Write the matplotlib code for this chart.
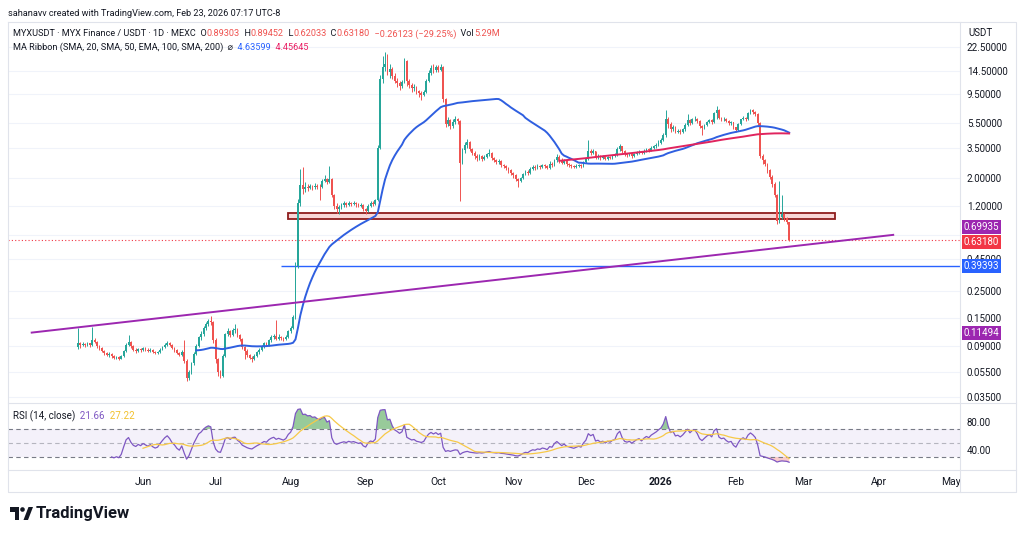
import matplotlib
matplotlib.use('Agg')
import matplotlib.pyplot as plt
import matplotlib.dates as mdates
from matplotlib.patches import Rectangle, Circle, Polygon
from matplotlib.ticker import NullLocator
import numpy as np
import pandas as pd

plt.rcParams['font.family'] = ['Roboto', 'DejaVu Sans']

# daily candles MYXUSDT (MEXC), one per day from start_date, open = previous close
start_date = '2025-05-05'
first_open = 0.088
close = [
    0.094, 0.091, 0.093, 0.092, 0.094, 0.091, 0.101, 0.097, 0.090, 0.086,
    0.082, 0.079, 0.076, 0.077, 0.074, 0.072, 0.073, 0.071, 0.074, 0.082,
    0.092, 0.096, 0.089, 0.084, 0.082, 0.085, 0.083, 0.086, 0.084, 0.082,
    0.084, 0.081, 0.079, 0.080, 0.084, 0.088, 0.092, 0.095, 0.092, 0.087,
    0.084, 0.079, 0.076, 0.081, 0.068, 0.050, 0.055, 0.065, 0.078, 0.090,
    0.105, 0.112, 0.125, 0.135, 0.142, 0.140, 0.100, 0.070, 0.055, 0.052,
    0.075, 0.112, 0.118, 0.110, 0.120, 0.122, 0.110, 0.102, 0.088, 0.082,
    0.076, 0.072, 0.070, 0.075, 0.080, 0.084, 0.089, 0.094, 0.092, 0.100,
    0.105, 0.108, 0.103, 0.106, 0.104, 0.102, 0.106, 0.118, 0.126, 0.152,
    0.39, 1.25, 1.75, 1.62, 1.70, 1.66, 1.72, 1.68, 1.74, 1.70,
    1.68, 1.90, 1.95, 1.85, 1.98, 1.45, 1.20, 1.13, 1.18, 1.22,
    1.25, 1.22, 1.27, 1.24, 1.26, 1.23, 1.20, 1.22, 1.12, 1.08,
    1.20, 1.26, 1.24, 1.32, 3.5, 12.5, 15.5, 16.5, 14.2, 15.0,
    13.2, 12.0, 11.5, 10.9, 11.8, 17.5, 12.0, 11.2, 10.5, 10.8,
    9.9, 9.6, 9.3, 9.8, 12.0, 14.0, 15.2, 14.6, 15.5, 14.8,
    15.6, 8.6, 5.4, 5.8, 5.2, 5.6, 5.9, 5.7, 2.65, 3.35,
    3.7, 3.9, 3.4, 3.2, 3.0, 2.9, 3.0, 2.85, 2.95, 3.1,
    3.2, 2.9, 2.8, 2.7, 2.75, 2.55, 2.5, 2.4, 2.3, 2.2,
    2.1, 1.95, 1.90, 2.0, 2.15, 2.25, 2.2, 2.35, 2.45, 2.4,
    2.5, 2.45, 2.55, 2.5, 2.4, 2.6, 2.55, 2.8, 2.95, 2.8,
    2.65, 2.75, 2.6, 2.55, 2.5, 2.45, 2.5, 2.55, 2.5, 2.7,
    2.85, 3.3, 3.2, 3.3, 2.95, 3.0, 2.9, 2.95, 2.85, 2.95,
    2.9, 3.0, 3.05, 3.4, 3.6, 3.3, 3.1, 3.05, 3.1, 3.0,
    3.1, 3.2, 3.25, 3.15, 3.3, 3.4, 3.35, 3.5, 3.6, 3.7,
    3.85, 4.0, 4.4, 6.0, 5.4, 4.9, 5.1, 4.7, 4.8, 4.65,
    4.9, 5.3, 5.8, 5.5, 5.9, 6.0, 5.7, 5.2, 5.0, 5.3,
    5.6, 5.8, 5.6, 6.6, 7.0, 6.1, 5.9, 6.0, 5.7, 5.5,
    5.6, 5.1, 4.85, 5.4, 5.9, 6.1, 5.9, 6.6, 7.0, 6.8,
    6.5, 5.5, 3.0, 2.8, 2.6, 2.3, 2.05, 1.8, 1.45, 0.90,
    0.98, 1.02, 0.96, 0.893, 0.6318,
]
high = [
    0.125, 0.097, 0.096, 0.095, 0.097, 0.095, 0.127, 0.104, 0.099, 0.091,
    0.088, 0.084, 0.081, 0.080, 0.079, 0.076, 0.075, 0.074, 0.076, 0.084,
    0.094, 0.110, 0.098, 0.091, 0.086, 0.087, 0.087, 0.088, 0.088, 0.086,
    0.086, 0.085, 0.082, 0.082, 0.086, 0.090, 0.094, 0.099, 0.097, 0.093,
    0.088, 0.085, 0.080, 0.083, 0.100, 0.070, 0.058, 0.067, 0.080, 0.093,
    0.108, 0.118, 0.130, 0.140, 0.148, 0.155, 0.143, 0.104, 0.072, 0.058,
    0.078, 0.115, 0.124, 0.121, 0.126, 0.135, 0.124, 0.113, 0.104, 0.090,
    0.085, 0.078, 0.074, 0.077, 0.082, 0.087, 0.092, 0.097, 0.097, 0.103,
    0.109, 0.112, 0.145, 0.111, 0.108, 0.106, 0.109, 0.121, 0.131, 0.158,
    0.42, 1.35, 2.35, 2.45, 1.85, 1.78, 1.80, 1.77, 1.82, 1.80,
    1.80, 1.95, 2.10, 2.00, 2.50, 2.00, 1.50, 1.25, 1.22, 1.26,
    1.30, 1.28, 1.31, 1.29, 1.30, 1.28, 1.26, 1.26, 1.24, 1.15,
    1.24, 1.30, 1.30, 1.36, 3.7, 13.5, 19.0, 20.5, 19.8, 16.5,
    15.5, 14.0, 12.6, 12.0, 12.2, 18.5, 17.8, 12.5, 11.5, 11.3,
    11.0, 10.2, 9.9, 10.1, 12.5, 14.8, 16.0, 16.5, 16.2, 16.0,
    16.4, 15.8, 8.8, 6.2, 6.0, 5.9, 6.3, 6.1, 5.8, 3.5,
    3.9, 4.1, 3.95, 3.5, 3.3, 3.1, 3.1, 3.05, 3.05, 3.2,
    3.4, 3.25, 2.95, 2.85, 2.85, 2.8, 2.6, 2.55, 2.45, 2.35,
    2.25, 2.15, 2.0, 2.05, 2.2, 2.3, 2.3, 2.45, 2.55, 2.55,
    2.6, 2.55, 2.6, 2.6, 2.55, 2.75, 2.7, 2.85, 3.1, 3.05,
    2.9, 2.85, 2.8, 2.65, 2.6, 2.55, 2.6, 2.6, 2.6, 2.75,
    2.9, 4.0, 3.4, 3.4, 3.3, 3.1, 3.05, 3.05, 3.0, 3.0,
    3.0, 3.05, 3.15, 3.55, 3.75, 3.6, 3.35, 3.2, 3.2, 3.15,
    3.2, 3.3, 3.35, 3.3, 3.4, 3.5, 3.5, 3.6, 3.7, 3.8,
    4.0, 4.2, 4.6, 7.0, 6.2, 5.6, 5.3, 5.2, 4.95, 4.9,
    5.0, 5.5, 6.5, 5.9, 6.1, 6.3, 6.1, 5.8, 5.3, 5.4,
    5.75, 5.95, 5.9, 6.8, 7.6, 7.1, 6.2, 6.15, 6.05, 5.8,
    5.7, 5.6, 5.15, 5.5, 6.0, 6.3, 6.2, 6.8, 7.2, 7.1,
    6.9, 6.6, 5.6, 3.1, 2.85, 2.65, 2.35, 2.1, 1.85, 1.5,
    1.9, 1.45, 1.04, 0.98, 0.89452,
]
low = [
    0.085, 0.087, 0.089, 0.088, 0.090, 0.088, 0.090, 0.094, 0.087, 0.083,
    0.080, 0.076, 0.074, 0.073, 0.072, 0.070, 0.070, 0.069, 0.070, 0.073,
    0.081, 0.090, 0.086, 0.082, 0.079, 0.080, 0.081, 0.082, 0.082, 0.080,
    0.081, 0.079, 0.077, 0.077, 0.079, 0.083, 0.087, 0.090, 0.089, 0.085,
    0.081, 0.077, 0.074, 0.075, 0.065, 0.047, 0.048, 0.053, 0.063, 0.076,
    0.088, 0.100, 0.108, 0.120, 0.130, 0.132, 0.095, 0.066, 0.052, 0.050,
    0.051, 0.073, 0.108, 0.106, 0.108, 0.114, 0.105, 0.099, 0.085, 0.070,
    0.073, 0.070, 0.067, 0.069, 0.073, 0.078, 0.082, 0.087, 0.089, 0.090,
    0.097, 0.102, 0.100, 0.101, 0.101, 0.099, 0.100, 0.104, 0.115, 0.122,
    0.148, 0.38, 1.20, 1.50, 1.55, 1.58, 1.62, 1.60, 1.64, 1.63,
    1.33, 1.65, 1.85, 1.80, 1.82, 1.40, 1.12, 1.05, 1.02, 1.12,
    1.18, 1.18, 1.20, 1.19, 1.21, 1.18, 1.16, 1.17, 1.08, 1.03,
    1.06, 1.17, 1.20, 1.22, 1.30, 3.4, 11.5, 14.5, 13.5, 12.8,
    12.5, 11.5, 10.8, 10.2, 10.5, 11.5, 11.0, 10.5, 9.8, 9.9,
    9.5, 9.0, 8.5, 9.1, 9.6, 11.8, 13.5, 14.0, 14.3, 14.2,
    14.5, 8.2, 5.1, 5.2, 4.9, 5.0, 5.4, 5.4, 1.30, 2.6,
    3.2, 3.5, 3.3, 3.05, 2.85, 2.75, 2.8, 2.75, 2.8, 2.9,
    3.0, 2.8, 2.7, 2.6, 2.6, 2.45, 2.4, 2.3, 2.2, 2.1,
    2.0, 1.88, 1.70, 1.85, 1.95, 2.1, 2.1, 2.15, 2.3, 2.3,
    2.35, 2.35, 2.4, 2.4, 2.35, 2.35, 2.45, 2.5, 2.7, 2.65,
    2.6, 2.6, 2.5, 2.45, 2.4, 2.4, 2.4, 2.45, 2.42, 2.45,
    2.65, 2.8, 3.05, 3.1, 2.85, 2.85, 2.8, 2.85, 2.8, 2.8,
    2.82, 2.85, 2.95, 3.0, 3.3, 3.2, 3.0, 2.95, 3.0, 2.9,
    2.95, 3.05, 3.1, 3.1, 3.1, 3.25, 3.25, 3.3, 3.4, 3.5,
    3.6, 3.75, 3.95, 4.3, 5.0, 4.7, 4.75, 4.6, 4.55, 4.5,
    4.6, 4.8, 5.2, 5.3, 5.4, 5.7, 5.5, 5.0, 4.45, 4.9,
    5.2, 5.5, 5.45, 5.5, 6.0, 5.9, 5.7, 5.75, 5.6, 5.3,
    5.3, 4.9, 4.7, 4.8, 5.3, 5.8, 5.7, 5.8, 6.5, 6.5,
    6.3, 5.2, 2.9, 2.6, 2.5, 2.2, 1.95, 1.7, 1.40, 0.85,
    0.87, 0.93, 0.90, 0.86, 0.62033,
]

# user drawings
trend_dates = ['2025-04-16', '2026-04-07']
trend_prices = [0.11494, 0.69935]
support_start = '2025-07-28'
support_price = 0.39393
zone_dates = ['2025-07-31', '2026-03-14']
zone_prices = [0.94, 1.045]
last_price = 0.63180

price_ticks = [0.035, 0.055, 0.09, 0.15, 0.25, 0.45, 0.7, 1.2, 2.0, 3.5, 5.5, 9.5, 14.5, 22.5]
hidden_ticks = [0.7]  # its label sits under the price tags
month_labels = ['Jun', 'Jul', 'Aug', 'Sep', 'Oct', 'Nov', 'Dec', '2026', 'Feb', 'Mar', 'Apr', 'May']
month_starts = pd.date_range('2025-06-01', periods=12, freq='MS')

GREEN = '#26a69a'
RED = '#ef5350'
TXT = '#131722'
W, H = 1024, 536


def rma(x, n):
    # wilder smoothing like tradingview ta.rma
    out = np.full(len(x), np.nan)
    out[n] = np.mean(x[1:n + 1])
    for i in range(n + 1, len(x)):
        out[i] = (out[i - 1] * (n - 1) + x[i]) / n
    return out


def chain(axo, x, y, parts, size):
    t = axo.text(x, y, parts[0][0], color=parts[0][1], fontsize=size, va='center', ha='left')
    for s, col in parts[1:]:
        t = axo.annotate(s, xy=(1, 0.5), xycoords=t, va='center', ha='left', color=col, fontsize=size)
    return t


def box(left, top, right, bottom):
    return [left / W, 1 - bottom / H, (right - left) / W, (bottom - top) / H]


def main():
    c = np.array(close)
    o = np.concatenate([[first_open], c[:-1]])
    h = np.maximum(np.array(high), np.maximum(o, c))
    l = np.minimum(np.array(low), np.minimum(o, c))
    dates = pd.date_range(start_date, periods=len(c), freq='D')
    x = mdates.date2num(dates)
    up = c >= o

    sma50 = pd.Series(c).rolling(50).mean()
    sma200 = pd.Series(c).rolling(200).mean()

    d = np.diff(c, prepend=np.nan)
    gain = np.where(d > 0, d, 0.0)
    loss = np.where(d < 0, -d, 0.0)
    ag = rma(gain, 14)
    al = rma(loss, 14)
    rsi = 100 - 100 / (1 + ag / al)
    rsi_ma = pd.Series(rsi).rolling(14).mean().values

    fig = plt.figure(figsize=(W / 100, H / 100), dpi=100)
    ax = fig.add_axes(box(8, 22, 960, 403))
    rax = fig.add_axes(box(8, 403, 960, 470), sharex=ax)

    x0 = mdates.date2num(pd.Timestamp(start_date))
    ax.set_xlim(x0 - 28.8, x0 + 364.6)

    # price pane
    ax.set_yscale('log')
    ax.set_ylim(0.0313, 35.7)
    cols = np.where(up, GREEN, RED)
    lo_b = np.minimum(o, c)
    hi_b = np.maximum(o, c)
    body = np.maximum(hi_b - lo_b, hi_b * 0.015)
    ax.vlines(x, l, h, colors=cols, lw=0.7, zorder=3)
    ax.bar(x, body, bottom=lo_b, width=0.72, color=cols, lw=0, zorder=4)

    ax.plot(x, sma50, color='#2f5fe0', lw=1.4, zorder=5)
    ax.plot(x, sma200, color='#e0245e', lw=1.4, zorder=5)

    tx = mdates.date2num(pd.to_datetime(trend_dates))
    ax.plot(tx, trend_prices, color='#9c27b0', lw=1.4, zorder=5)
    ax.hlines(support_price, mdates.date2num(pd.Timestamp(support_start)), ax.get_xlim()[1],
              color='#2962ff', lw=1, zorder=2)
    zx = mdates.date2num(pd.to_datetime(zone_dates))
    ax.add_patch(Rectangle((zx[0], zone_prices[0]), zx[1] - zx[0], zone_prices[1] - zone_prices[0],
                           facecolor='#f8d7d7', edgecolor='#8e1c1c', lw=1.3, zorder=2))
    ax.axhline(last_price, color='#f23645', lw=0.8, ls=(0, (1, 2)), zorder=1)

    ax.yaxis.tick_right()
    ax.set_yticks(price_ticks)
    ax.set_yticklabels(['' if v in hidden_ticks else f'{v:.5f}' for v in price_ticks])
    ax.yaxis.set_minor_locator(NullLocator())
    ax.tick_params(axis='y', length=0, pad=5, labelsize=7, labelcolor=TXT)
    ax.tick_params(axis='x', length=0, labelbottom=False)
    ax.grid(axis='y', color='#f0f3fa', lw=0.8)
    ax.set_axisbelow(True)
    for s in ax.spines.values():
        s.set_visible(False)

    # price tags on the scale
    def tag(price, text, color, dy=0):
        ax.annotate(text, xy=(1, price), xycoords=('axes fraction', 'data'), xytext=(2.5, dy),
                    textcoords='offset points', ha='left', va='center', color='white', fontsize=7,
                    bbox=dict(boxstyle='square,pad=0.2', fc=color, ec='none'), annotation_clip=False,
                    zorder=10)
    tag(trend_prices[1], '0.69935', '#9c27b0', dy=5.5)
    tag(last_price, '0.63180', '#f23645', dy=-1)
    tag(support_price, '0.39393', '#2962ff')
    tag(trend_prices[0], '0.11494', '#9c27b0')

    # rsi pane
    rax.axhspan(30, 70, color='#7e57c2', alpha=0.08, lw=0)
    for lev, a in [(70, 1.0), (50, 0.5), (30, 1.0)]:
        rax.axhline(lev, color='#787b86', lw=0.8, ls=(0, (4, 3)), alpha=a)
    r0 = np.nan_to_num(rsi, nan=50)
    rax.fill_between(x, 70, r0, where=r0 > 70, interpolate=True, color='#43a047', alpha=0.55, lw=0)
    rax.fill_between(x, 30, r0, where=r0 < 30, interpolate=True, color='#ef5350', alpha=0.3, lw=0)
    rax.plot(x, rsi, color='#7e57c2', lw=0.9)
    rax.plot(x, rsi_ma, color='#f7c948', lw=0.9)
    rax.set_ylim(11.4, 107)
    rax.yaxis.tick_right()
    rax.set_yticks([40, 80])
    rax.set_yticklabels(['40.00', '80.00'])
    rax.tick_params(axis='y', length=0, pad=5, labelsize=7, labelcolor=TXT)
    rax.set_xticks(mdates.date2num(month_starts))
    rax.set_xticklabels(month_labels)
    rax.tick_params(axis='x', length=0, pad=5, labelsize=7.5, labelcolor=TXT)
    for t in rax.get_xticklabels():
        if t.get_text() == '2026':
            t.set_fontweight('bold')
    for s in rax.spines.values():
        s.set_visible(False)
    rax.patch.set_alpha(0)

    # overlay in pixel coords for text, frame and logo
    oax = fig.add_axes([0, 0, 1, 1])
    oax.set_xlim(0, W)
    oax.set_ylim(H, 0)
    oax.axis('off')
    oax.patch.set_alpha(0)
    oax.plot([8, 1016, 1016, 8, 8], [22, 22, 492, 492, 22], color='#e0e3eb', lw=0.8)
    oax.plot([960, 960], [22, 492], color='#e0e3eb', lw=0.8)
    oax.plot([8, 1016], [403, 403], color='#e0e3eb', lw=0.8)
    oax.plot([8, 1016], [470, 470], color='#e0e3eb', lw=0.8)

    oax.text(8, 13, 'sahanavv created with TradingView.com, Feb 23, 2026 07:17 UTC-8',
             fontsize=6.6, color=TXT, va='center')
    oax.text(968, 33, 'USDT', fontsize=7, color=TXT, va='center')
    chain(oax, 13, 34, [('MYXUSDT · MYX Finance / USDT · 1D · MEXC', TXT), ('  O', TXT), ('0.89303', RED),
                        ('  H', TXT), ('0.89452', RED), ('  L', TXT), ('0.62033', RED), ('  C', TXT),
                        ('0.63180', RED), ('  −0.26123 (−29.25%)', RED), ('  Vol', TXT), ('5.29M', RED)], 6.6)
    chain(oax, 13, 47, [('MA Ribbon (SMA, 20, SMA, 50, EMA, 100, SMA, 200)', TXT), ('  ⌀', TXT),
                        ('  4.63599', '#2962ff'), ('  4.45645', '#e91e63')], 6.6)
    chain(oax, 13, 416, [('RSI (14, close)', TXT), ('  21.66', '#7e57c2'), ('  27.22', '#f2c12e')], 7)

    # tradingview logo
    oax.add_patch(Rectangle((10, 507), 9, 4.5, color=TXT, lw=0))
    oax.add_patch(Rectangle((14.5, 507), 4.5, 13, color=TXT, lw=0))
    oax.add_patch(Circle((22.5, 509.5), 2.3, color=TXT, lw=0))
    oax.add_patch(Polygon([(23.5, 520), (28.5, 507), (33, 507), (28, 520)], color=TXT, lw=0))
    oax.text(36, 513.5, 'TradingView', fontsize=12, fontweight='bold', color=TXT, va='center')

    fig.savefig('out.png', dpi=100, facecolor='white')


if __name__ == '__main__':
    main()
